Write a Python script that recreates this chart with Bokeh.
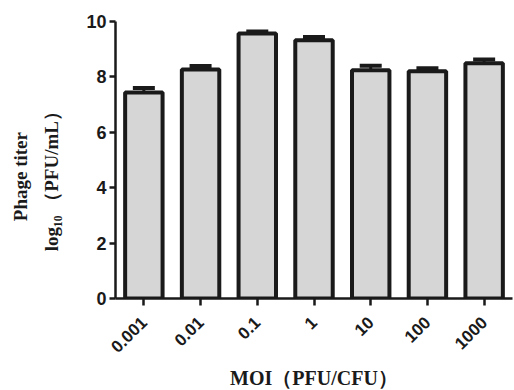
import math
from bokeh.plotting import figure
from bokeh.models import (ColumnDataSource, FactorRange, Range1d, FixedTicker,
                          Whisker, TeeHead, LinearAxis)
from bokeh.embed import file_html
from bokeh.resources import INLINE

moi = ["0.001", "0.01", "0.1", "1", "10", "100", "1000"]
titer = [7.44, 8.27, 9.57, 9.32, 8.24, 8.20, 8.49]
sem = [0.16, 0.12, 0.07, 0.12, 0.16, 0.11, 0.14]

src = ColumnDataSource(dict(
    moi=moi, titer=titer,
    upper=[t + e for t, e in zip(titer, sem)],
))

p = figure(x_range=FactorRange(factors=moi, start=-0.036, end=6.83),
           y_range=Range1d(0, 10),
           frame_width=397, frame_height=277,
           min_border_left=115, min_border_right=2,
           min_border_top=21, min_border_bottom=92,
           output_backend="svg", toolbar_location=None)
p.outline_line_color = None
p.xgrid.grid_line_color = None
p.ygrid.grid_line_color = None
p.background_fill_color = "white"
p.border_fill_color = "white"

p.vbar(x="moi", top="titer", width=0.66, bottom=0, source=src,
       fill_color="#d6d6d6", line_color="#1a1a1a", line_width=4)

wh = Whisker(base="moi", upper="upper", lower="titer", source=src,
             line_color="#1a1a1a", line_width=3,
             upper_head=TeeHead(size=22, line_width=4, line_color="#1a1a1a"),
             lower_head=None)
p.add_layout(wh)

pad = "\u00a0" * 7

ya = p.yaxis[0]
ya.ticker = FixedTicker(ticks=[0, 2, 4, 6, 8, 10])
ya.minor_tick_line_color = None
ya.major_tick_in = 0
ya.major_tick_out = 6
ya.major_tick_line_width = 2.5
ya.axis_line_width = 2.5
ya.axis_line_color = "#1a1a1a"
ya.major_tick_line_color = "#1a1a1a"
ya.major_label_text_font = "Liberation Sans"
ya.major_label_text_font_style = "bold"
ya.major_label_text_font_size = "18px"
ya.major_label_text_color = "#1a1a1a"
ya.major_label_standoff = 3
ya.axis_label = "log₁₀\u00a0（PFU/mL）" + pad
ya.axis_label_text_font = "Liberation Serif"
ya.axis_label_text_font_style = "bold"
ya.axis_label_text_font_size = "19px"
ya.axis_label_text_color = "#1a1a1a"
ya.axis_label_standoff = 21

ya2 = LinearAxis(ticker=FixedTicker(ticks=[]),
                 axis_line_color=None, major_tick_line_color=None,
                 minor_tick_line_color=None,
                 axis_label="Phage titer" + pad,
                 axis_label_text_font="Liberation Serif",
                 axis_label_text_font_style="bold",
                 axis_label_text_font_size="19px",
                 axis_label_text_color="#1a1a1a",
                 axis_label_standoff=8)
p.add_layout(ya2, "left")

xa = p.xaxis[0]
xa.major_tick_in = 0
xa.major_tick_out = 7
xa.major_tick_line_width = 2.5
xa.axis_line_width = 2.5
xa.axis_line_color = "#1a1a1a"
xa.major_tick_line_color = "#1a1a1a"
xa.major_label_orientation = math.pi / 4
xa.major_label_text_font = "Liberation Sans"
xa.major_label_text_font_style = "bold"
xa.major_label_text_font_size = "17px"
xa.major_label_text_color = "#1a1a1a"
xa.major_label_standoff = 14
xa.axis_label = "MOI（PFU/CFU）"
xa.axis_label_text_font = "Liberation Serif"
xa.axis_label_text_font_style = "bold"
xa.axis_label_text_font_size = "20px"
xa.axis_label_text_color = "#1a1a1a"
xa.axis_label_standoff = 6

open("out.html", "w").write(file_html(p, INLINE))
